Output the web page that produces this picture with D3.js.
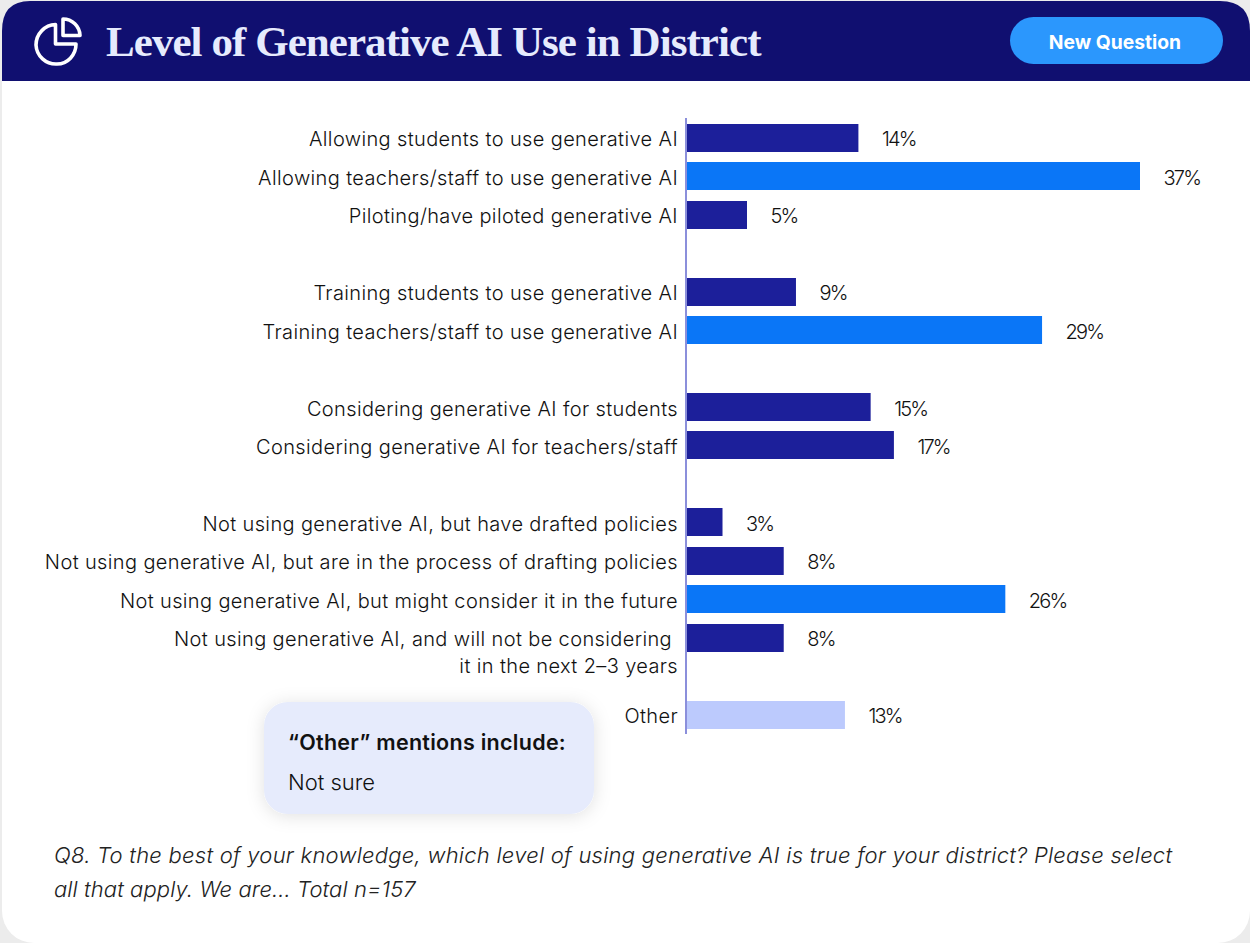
<!DOCTYPE html>
<html><head><meta charset="utf-8">
<script src="https://cdnjs.cloudflare.com/ajax/libs/d3/7.8.5/d3.min.js"></script>
<style>html,body{margin:0;padding:0;background:#ececec;overflow:hidden}svg{display:block}</style>
</head><body><div id="chart"></div>
<script>
const categories=[
"Allowing students to use generative AI",
"Allowing teachers/staff to use generative AI",
"Piloting/have piloted generative AI",
"gap1",
"Training students to use generative AI",
"Training teachers/staff to use generative AI",
"gap2",
"Considering generative AI for students",
"Considering generative AI for teachers/staff",
"gap3",
"Not using generative AI, but have drafted policies",
"Not using generative AI, but are in the process of drafting policies",
"Not using generative AI, but might consider it in the future",
"Not using generative AI, and will not be considering |it in the next 2–3 years",
"gap4",
"Other"];
const values=[14,37,4.9,null,8.9,29,null,15,16.9,null,2.9,7.9,26,7.9,null,12.9];
const valueLabels=["14%","37%","5%",null,"9%","29%",null,"15%","17%",null,"3%","8%","26%","8%",null,"13%"];
const kinds=["d","h","d",null,"d","h",null,"d","d",null,"d","d","h","d",null,"o"];
const title="Level of Generative AI Use in District";
const buttonText="New Question";
const noteHead="“Other” mentions include:";
const noteBody="Not sure";
const footnote=["Q8. To the best of your knowledge, which level of using generative AI is true for your district? Please select","all that apply. We are… Total n=157"];

const colors={d:"#1c1f9a",h:"#0a76f7",o:"#bccafd"};
const font="Inter, sans-serif";
const W=1250,H=943;
const svg=d3.select("#chart").append("svg").attr("width",W).attr("height",H).style("font-family",font);
const defs=svg.append("defs");
const f=defs.append("filter").attr("id","sh").attr("x","-20%").attr("y","-30%").attr("width","140%").attr("height","160%");
f.append("feDropShadow").attr("dx",0).attr("dy",2).attr("stdDeviation",9).attr("flood-color","#000").attr("flood-opacity",0.12);

svg.append("rect").attr("x",2).attr("y",1).attr("width",W-2).attr("height",H-1).attr("rx",32).attr("fill","#fff");
const hp=d3.path();
hp.moveTo(2,81);hp.lineTo(2,31);hp.quadraticCurveTo(2,1,30,1);hp.lineTo(W-30,1);hp.quadraticCurveTo(W,1,W,31);hp.lineTo(W,81);hp.closePath();
svg.append("path").attr("d",hp.toString()).attr("fill","#100f70");
const ic=svg.append("g").attr("fill","none").attr("stroke","#fff").attr("stroke-width",3.6).attr("stroke-linejoin","round");
ic.append("path").attr("d","M55.5,24.5 A20,20 0 1 0 76,44 L55.5,44 Z");
ic.append("path").attr("d","M63,19 A17,17 0 0 1 80,35.5 L63,35.5 Z");
svg.append("text").attr("x",106).attr("y",56).attr("fill","#e6ebfd").attr("font-family","'Liberation Serif',serif").attr("font-weight",700).attr("font-size",43).attr("letter-spacing",-0.94).text(title);
svg.append("rect").attr("x",1010).attr("y",17).attr("width",213).attr("height",47).attr("rx",23.5).attr("fill","#2b97fd");
svg.append("text").attr("x",1115).attr("y",49).attr("text-anchor","middle").attr("fill","#fff").attr("font-weight",700).attr("font-size",19.3).text(buttonText);

const x=d3.scaleLinear().domain([0,37]).range([687,1140]);
const y=d3.scaleBand().domain(categories).range([118.73,733.77]).paddingInner(0).paddingOuter(0);
const bh=28;
const rows=categories.map((c,i)=>({c,v:values[i],k:kinds[i],l:valueLabels[i]})).filter(d=>d.v!==null);

svg.append("g").selectAll("rect").data(rows).join("rect")
 .attr("x",x(0)).attr("y",d=>Math.round(y(d.c)+y.bandwidth()/2-bh/2)).attr("width",d=>x(d.v)-x(0)).attr("height",bh).attr("fill",d=>colors[d.k]);
svg.append("line").attr("x1",686).attr("x2",686).attr("y1",118).attr("y2",734).attr("stroke","#8b8fdb").attr("stroke-width",2);

const lab=svg.append("g").attr("font-size",20).attr("font-weight",350).attr("letter-spacing",0.37).attr("fill","#111");
rows.forEach(d=>{
 const parts=d.c.split("|");const cy=y(d.c)+y.bandwidth()/2;
 parts.forEach((p,i)=>lab.append("text").attr("x",678).attr("y",cy+8.5+i*27).attr("text-anchor","end").attr("xml:space","preserve").text(p));
});
svg.append("g").attr("font-size",20).attr("font-weight",350).attr("letter-spacing",-1.8).attr("fill","#111").selectAll("text").data(rows).join("text")
 .attr("x",d=>x(d.v)+23.5).attr("y",d=>y(d.c)+y.bandwidth()/2+8.5).text(d=>d.l);

svg.append("rect").attr("x",264).attr("y",702).attr("width",330).attr("height",112).attr("rx",24).attr("fill","#e6ebfc").attr("filter","url(#sh)");
svg.append("text").attr("x",288).attr("y",750).attr("font-size",21.5).attr("font-weight",600).attr("letter-spacing",0.28).attr("fill","#111").text(noteHead);
svg.append("text").attr("x",288).attr("y",790).attr("font-size",22).attr("font-weight",350).attr("fill","#111").text(noteBody);

svg.append("g").attr("font-size",22).attr("font-style","italic").attr("font-weight",350).attr("fill","#222").selectAll("text").data(footnote).join("text")
 .attr("x",54).attr("y",(d,i)=>863+i*33.5).attr("letter-spacing",(d,i)=>i?0.09:0.255).text(d=>d);
</script></body></html>
